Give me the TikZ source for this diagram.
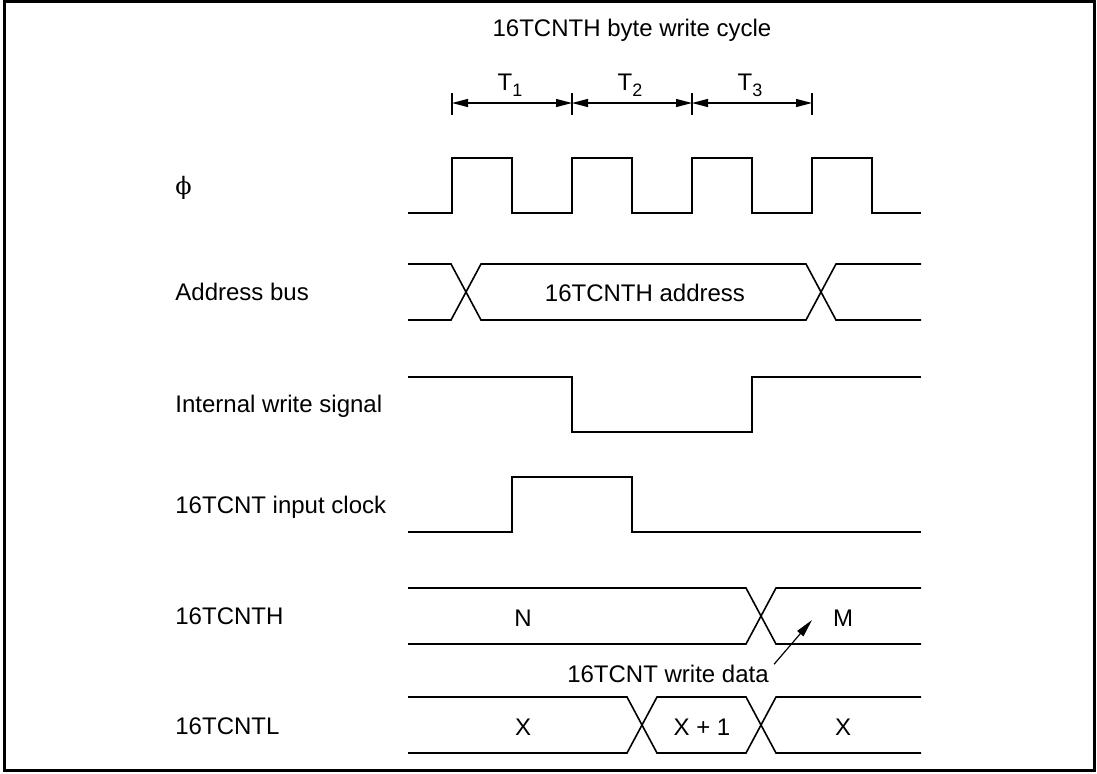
\documentclass[tikz,border=0pt]{standalone}
\usepackage{fontspec}
\setmainfont{Liberation Sans}
\newfontfamily\phifont{DejaVu Serif}
\usetikzlibrary{arrows.meta}
\newcommand{\Tsub}[1]{T\raisebox{-3pt}{\fontsize{9}{10}\selectfont #1}}
\begin{document}
\begin{tikzpicture}[x=0.5pt,y=-0.5pt, font=\fontsize{12}{14}\selectfont,
  sig/.style={line width=0.8pt, line join=miter},
  lbl/.style={anchor=base west, inner sep=0pt},
  txt/.style={anchor=base, inner sep=0pt},
  dim/.style={line width=0.6pt, {Triangle[length=8pt,width=4pt]}-{Triangle[length=8pt,width=4pt]}},
  tickline/.style={line width=0.8pt},
  ptr/.style={line width=0.6pt, -{Triangle[length=9pt,width=4pt]}}]
\useasboundingbox (0,0) rectangle (1097,773);
\draw[line width=1.5pt] (4.5,1.5) rectangle (1094.5,770.5);

% title and period markers
\node[txt] (title) at (632,36) {16TCNTH byte write cycle};
\coordinate (t0) at (452,103);
\coordinate (t1) at (572,103);
\coordinate (t2) at (692,103);
\coordinate (t3) at (812,103);
\foreach \c in {t0,t1,t2,t3} \draw[tickline] ([yshift=5pt]\c) -- ([yshift=-6pt]\c);
\draw[dim] (t0) -- (t1);
\draw[dim] (t1) -- (t2);
\draw[dim] (t2) -- (t3);
\node[txt] (T1) at (510,90) {\Tsub{1}};
\node[txt] (T2) at (630,90) {\Tsub{2}};
\node[txt] (T3) at (750,90) {\Tsub{3}};

% labels
\node[lbl] (lphi) at (175,194) {\phifont ϕ};
\node[lbl] (laddr) at (175,300) {Address bus};
\node[lbl] (lwr) at (175,412) {Internal write signal};
\node[lbl] (lclk) at (175,513) {16TCNT input clock};
\node[lbl] (lh) at (175,624) {16TCNTH};
\node[lbl] (ll) at (175,734) {16TCNTL};

% phi
\draw[sig] (408,213) -- (452,213) -- (452,158) -- (512,158) -- (512,213) -- (572,213) -- (572,158) -- (632,158) -- (632,213) -- (692,213) -- (692,158) -- (752,158) -- (752,213) -- (812,213) -- (812,158) -- (872,158) -- (872,213) -- (921,213);

% address bus
\draw[sig] (408,264) -- (451,264) -- (481,320) -- (806,320) -- (836,264) -- (921,264);
\draw[sig] (408,320) -- (451,320) -- (481,264) -- (806,264) -- (836,320) -- (921,320);
\node[txt] (addr) at (645,301) {16TCNTH address};

% internal write signal
\draw[sig] (408,377) -- (572,377) -- (572,432) -- (752,432) -- (752,377) -- (921,377);

% input clock
\draw[sig] (408,532) -- (512,532) -- (512,477) -- (632,477) -- (632,532) -- (921,532);

% 16TCNTH
\draw[sig] (408,588) -- (746,588) -- (776,644) -- (921,644);
\draw[sig] (408,644) -- (746,644) -- (776,588) -- (921,588);
\node[txt] (hN) at (523,626) {N};
\node[txt] (hM) at (843,626) {M};

% 16TCNTL
\draw[sig] (408,697) -- (627,697) -- (657,753) -- (746,753) -- (776,697) -- (921,697);
\draw[sig] (408,753) -- (627,753) -- (657,697) -- (746,697) -- (776,753) -- (921,753);
\node[txt] (lX1) at (523,735) {X};
\node[txt] (lX2) at (702,735) {X + 1};
\node[txt] (lX3) at (843,735) {X};

% write data pointer
\node[txt] (wd) at (668,682) {16TCNT write data};
\coordinate (wdtip) at (812,620);
\draw[ptr] ([shift={(5,0)}]wd.north east) -- (wdtip);
\end{tikzpicture}
\end{document}
